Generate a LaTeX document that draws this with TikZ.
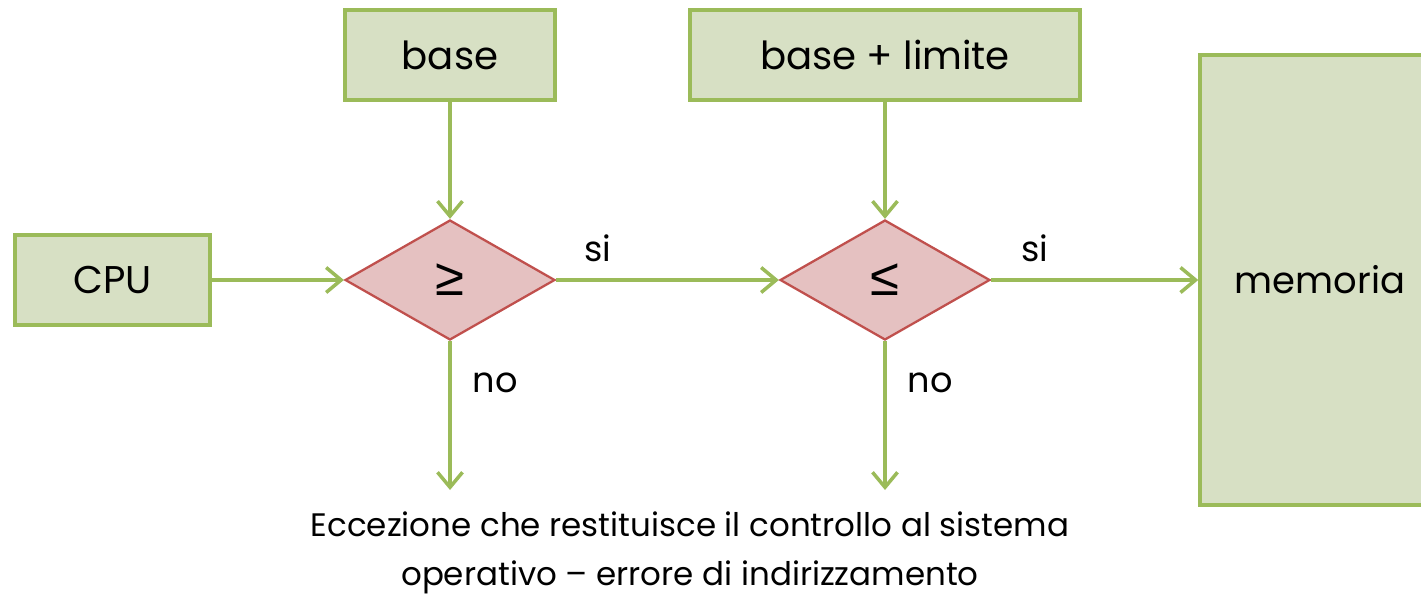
\documentclass[tikz,border=0pt]{standalone}
\usepackage{fontspec}
\setmainfont{Poppins}
\newfontfamily\symfont{Liberation Sans}
\usetikzlibrary{shapes.geometric,arrows.meta}
\definecolor{boxfill}{RGB}{215,224,196}
\definecolor{boxline}{RGB}{155,187,89}
\definecolor{rhofill}{RGB}{229,193,193}
\definecolor{rholine}{RGB}{192,80,77}
\begin{document}
\begin{tikzpicture}[x=0.02cm, y=-0.02cm,
    greenbox/.style = {draw=boxline, fill=boxfill, line width=2pt, inner sep=0pt, font=\fontsize{22}{26}\selectfont},
    testrhombus/.style = {diamond, draw=rholine, fill=rhofill, line width=1.3pt, inner sep=0pt,
        minimum width=4.2cm, minimum height=2.4cm, font=\symfont\fontsize{30}{34}\selectfont},
    flow/.style = {draw=boxline, line width=2pt, -{Straight Barb[length=0.3cm, width=0.5cm, line width=2pt]}},
    lbl/.style = {font=\fontsize{20}{24}\selectfont}]
    \useasboundingbox (0,0) rectangle (1421,598);
    \clip (0,0) rectangle (1421,598);
    % boxes
    \node[greenbox, minimum width=4.2cm, minimum height=1.8cm] (base) at (450,55) {base};
    \node[greenbox, minimum width=7.8cm, minimum height=1.8cm] (limite) at (885,55) {base + limite};
    \node[greenbox, minimum width=3.9cm, minimum height=1.8cm] (cpu) at (112.5,280) {CPU};
    \node[greenbox, minimum width=4.8cm, minimum height=9cm] (mem) at (1320,280) {\fontsize{21}{25}\selectfont memoria};
    % tests
    \node[testrhombus] (ge) at (450,280) {≥};
    \node[testrhombus] (le) at (885,280) {≤};
    \coordinate (geout) at (450,490);
    \coordinate (leout) at (885,490);
    % connectors
    \draw[flow] (base) -- (ge);
    \draw[flow] (limite) -- (le);
    \draw[flow] (cpu) -- (ge);
    \draw[flow] (ge) -- (le);
    \draw[flow] (le) -- (le -| mem.west);
    \draw[flow] (ge) -- (geout);
    \draw[flow] (le) -- (leout);
    % labels
    \node[lbl] (si1) at (598,248) {si};
    \node[lbl] (si2) at (1035,248) {si};
    \node[lbl] (no1) at (495,383) {no};
    \node[lbl] (no2) at (930,383) {no};
    \node[lbl, align=center, font=\fontsize{18.5}{27.5}\selectfont] (exc) at (690,553) {Eccezione che restituisce il controllo al sistema\\ operativo -- errore di indirizzamento};
\end{tikzpicture}
\end{document}
